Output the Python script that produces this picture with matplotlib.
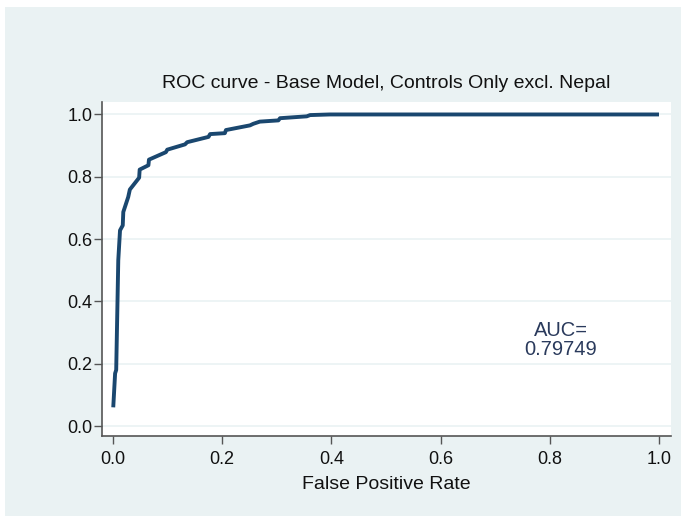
import matplotlib
matplotlib.use("Agg")
import matplotlib.pyplot as plt
from matplotlib.patches import Rectangle

plt.rcParams["font.family"] = ["Liberation Sans", "DejaVu Sans"]

# ROC curve (false positive rate, sensitivity)
fpr = [0.0006, 0.004, 0.006, 0.0098, 0.013, 0.018, 0.019, 0.028, 0.031, 0.048,
       0.049, 0.065, 0.066, 0.097, 0.0995, 0.132, 0.136, 0.175, 0.178, 0.205,
       0.207, 0.251, 0.257, 0.269, 0.303, 0.306, 0.355, 0.361, 0.397, 1.0]
tpr = [0.060, 0.169, 0.180, 0.532, 0.628, 0.644, 0.687, 0.735, 0.759, 0.797,
       0.823, 0.837, 0.855, 0.879, 0.887, 0.904, 0.911, 0.928, 0.937, 0.940,
       0.950, 0.965, 0.970, 0.977, 0.981, 0.988, 0.994, 0.998, 1.0, 1.0]
auc = "0.79749"
ticks = [0.0, 0.2, 0.4, 0.6, 0.8, 1.0]

BG = "#EAF2F3"
NAVY = "#1A476F"

fig = plt.figure(figsize=(6.81, 5.16), dpi=100, facecolor="white")
fig.add_artist(Rectangle((5 / 681, 0), 1, 1 - 7 / 516, transform=fig.transFigure,
                         facecolor=BG, edgecolor="none", zorder=-10))
ax = fig.add_axes([102 / 681, 80 / 516, 569 / 681, 334 / 516])
ax.set_zorder(1)
ax.set_facecolor("white")

ax.plot(fpr, tpr, color=NAVY, lw=2.8, solid_capstyle="butt", zorder=3)
ax.text(0.82, 0.276, "AUC=\n" + auc, ha="center", va="center", fontsize=14.5,
        color="#2A3A5C", linespacing=0.95)

ax.set_xlim(-0.02, 1.022)
ax.set_ylim(-0.032, 1.04)
ax.set_xticks(ticks)
ax.set_yticks(ticks)
ax.set_xticklabels([f"{t:.1f}" for t in ticks])
ax.set_yticklabels([f"{t:.1f}" for t in ticks])
ax.yaxis.grid(True, color=BG, lw=1.2)
ax.set_axisbelow(True)
for s in ("top", "right"):
    ax.spines[s].set_visible(False)
for s in ("left", "bottom"):
    ax.spines[s].set_color("#555555")
    ax.spines[s].set_linewidth(1.2)
ax.tick_params(direction="out", length=6, width=1, color="#555555",
               labelsize=13, labelcolor="#111111")
ax.tick_params(axis="y", pad=1)
ax.tick_params(axis="x", pad=4.5)
ax.set_xlabel("False Positive Rate", fontsize=14, color="#111111", labelpad=6)
ax.set_title("ROC curve - Base Model, Controls Only excl. Nepal", fontsize=14,
             color="#111111", pad=10)

fig.savefig("out.png", dpi=100, facecolor="white")
